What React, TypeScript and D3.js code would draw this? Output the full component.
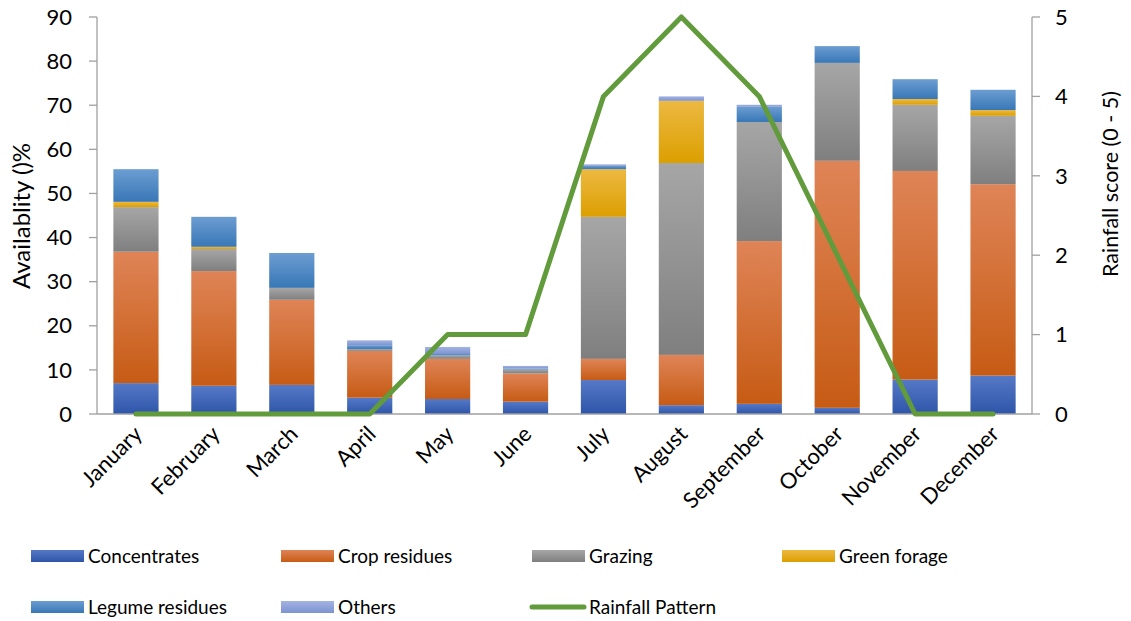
import React from "react";
import * as d3 from "d3";

const months = ["January", "February", "March", "April", "May", "June", "July", "August", "September", "October", "November", "December"];

const concentrates = [7.0, 6.4, 6.6, 3.7, 3.4, 2.8, 7.7, 2.0, 2.3, 1.4, 7.8, 8.7];
const cropResidues = [29.8, 26.0, 19.3, 10.6, 9.1, 6.4, 4.8, 11.4, 36.9, 56.0, 47.3, 43.4];
const grazing = [10.1, 5.0, 2.7, 0.4, 0.8, 0.9, 32.2, 43.5, 27.0, 22.2, 15.0, 15.5];
const greenForage = [1.2, 0.5, 0.0, 0.0, 0.0, 0.0, 10.8, 14.1, 0.0, 0.0, 1.3, 1.3];
const legumeResidues = [7.4, 6.8, 7.9, 0.9, 0.3, 0.2, 0.8, 0.0, 3.5, 3.8, 4.5, 4.6];
const others = [0.0, 0.0, 0.0, 1.1, 1.6, 0.6, 0.3, 1.0, 0.4, 0.0, 0.0, 0.0];
const rainfall = [0, 0, 0, 0, 1, 1, 4, 5, 4, 2, 0, 0];

const leftTicks = [0, 10, 20, 30, 40, 50, 60, 70, 80, 90];
const rightTicks = [0, 1, 2, 3, 4, 5];

const seriesDefs = [
  { key: "conc", name: "Concentrates", values: concentrates, top: "#5679c6", bottom: "#2d55a9" },
  { key: "crop", name: "Crop residues", values: cropResidues, top: "#df8457", bottom: "#c65b14" },
  { key: "graz", name: "Grazing", values: grazing, top: "#a6a6a6", bottom: "#7f7f7f" },
  { key: "green", name: "Green forage", values: greenForage, top: "#ecb942", bottom: "#dc9f00" },
  { key: "legume", name: "Legume residues", values: legumeResidues, top: "#6c9dd1", bottom: "#3877b6" },
  { key: "others", name: "Others", values: others, top: "#a3b3e2", bottom: "#7c93d1" },
];

const W = 1131;
const H = 621;
const left = 97;
const right = 1032;
const top = 17;
const bottom = 414;
const font = "Lato, 'Open Sans', sans-serif";
const axisColor = "#a0a0a0";
const lineColor = "#629b3c";

export default function App() {
  const x = d3.scaleBand<string>().domain(months).range([left, right]).paddingInner(0.42).paddingOuter(0.21);
  const y = d3.scaleLinear().domain([0, 90]).range([bottom, top]);
  const y2 = d3.scaleLinear().domain([0, 5]).range([bottom, top]);

  const rows = months.map((m, i) => {
    const r: Record<string, number | string> = { month: m };
    seriesDefs.forEach((s) => (r[s.key] = s.values[i]));
    return r;
  });
  const stacked = d3.stack<any>().keys(seriesDefs.map((s) => s.key))(rows);

  const line = d3
    .line<number>()
    .x((_, i) => (x(months[i]) as number) + x.bandwidth() / 2)
    .y((d) => y2(d));

  const legendRows = [
    [
      { i: 0, x: 31 },
      { i: 1, x: 281 },
      { i: 2, x: 532 },
      { i: 3, x: 782 },
    ],
    [
      { i: 4, x: 31 },
      { i: 5, x: 281 },
    ],
  ];
  const legendY = [556, 607];

  return (
    <svg width={W} height={H} style={{ display: "block", position: "absolute", left: 0, top: 0 }} fontFamily={font}>
      <defs>
        {seriesDefs.map((s) => (
          <linearGradient key={s.key} id={`g-${s.key}`} x1="0" y1="0" x2="0" y2="1">
            <stop offset="0%" stopColor={s.top} />
            <stop offset="50%" stopColor={d3.interpolateRgb(s.top, s.bottom)(0.5)} />
            <stop offset="100%" stopColor={s.bottom} />
          </linearGradient>
        ))}
      </defs>
      <rect width={W} height={H} fill="#fff" />

      {/* stacked bars */}
      {stacked.map((layer, li) => (
        <g key={seriesDefs[li].key} fill={`url(#g-${seriesDefs[li].key})`}>
          {layer.map((d, i) => {
            const h = y(d[0]) - y(d[1]);
            if (h <= 0) return null;
            return <rect key={i} x={x(months[i])} y={y(d[1])} width={x.bandwidth()} height={h} />;
          })}
        </g>
      ))}

      {/* axes */}
      <line x1={left} x2={left} y1={top} y2={bottom} stroke={axisColor} strokeWidth={1.3} />
      <line x1={right} x2={right} y1={top} y2={bottom} stroke={axisColor} strokeWidth={1.3} />
      <line x1={left} x2={right} y1={bottom} y2={bottom} stroke={axisColor} strokeWidth={1.3} />
      {leftTicks.map((t) => (
        <g key={t}>
          <line x1={left - 8} x2={left} y1={y(t)} y2={y(t)} stroke={axisColor} strokeWidth={1.3} />
          <text x={72} y={y(t)} dy="0.35em" textAnchor="end" fontSize={22} fill="#000">
            {t}
          </text>
        </g>
      ))}
      {rightTicks.map((t) => (
        <g key={t}>
          <line x1={right} x2={right + 8} y1={y2(t)} y2={y2(t)} stroke={axisColor} strokeWidth={1.3} />
          <text x={1055} y={y2(t)} dy="0.35em" textAnchor="start" fontSize={22} fill="#000">
            {t}
          </text>
        </g>
      ))}
      {months.map((m) => {
        const cx = (x(m) as number) + x.bandwidth() / 2 + 2;
        return (
          <text key={m} transform={`translate(${cx},${430}) rotate(-45)`} textAnchor="end" dy="0.35em" fontSize={22} fill="#000">
            {m}
          </text>
        );
      })}

      <text transform={`translate(22,216) rotate(-90)`} textAnchor="middle" dy="0.35em" fontSize={24} fill="#000">
        Availablity ()%
      </text>
      <text transform={`translate(1110,184) rotate(-90)`} textAnchor="middle" dy="0.35em" fontSize={21.5} fill="#000">
        Rainfall score (0 - 5)
      </text>

      {/* rainfall line */}
      <path d={line(rainfall) as string} fill="none" stroke={lineColor} strokeWidth={5} strokeLinejoin="round" strokeLinecap="round" />

      {/* legend */}
      {legendRows.map((row, ri) =>
        row.map(({ i, x: lx }) => (
          <g key={seriesDefs[i].key}>
            <rect x={lx} y={legendY[ri] - 6} width={53} height={12} fill={`url(#g-${seriesDefs[i].key})`} />
            <text x={lx + 57} y={legendY[ri]} dy="0.35em" fontSize={19} fill="#000">
              {seriesDefs[i].name}
            </text>
          </g>
        ))
      )}
      <line x1={532} x2={584} y1={legendY[1]} y2={legendY[1]} stroke={lineColor} strokeWidth={5} strokeLinecap="round" />
      <text x={589} y={legendY[1]} dy="0.35em" fontSize={19} fill="#000">
        Rainfall Pattern
      </text>
    </svg>
  );
}
